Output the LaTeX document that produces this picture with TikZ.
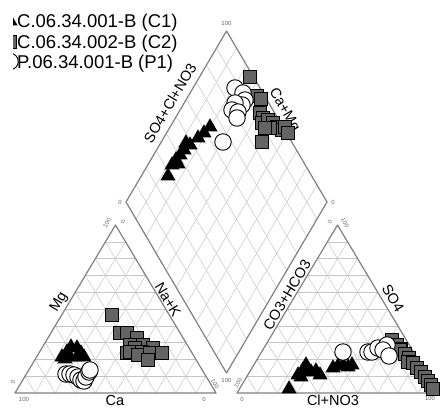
\documentclass[tikz,border=0pt]{standalone}
\usepackage{fontspec}
\setmainfont{Liberation Sans}
\usetikzlibrary{shapes.geometric,calc}
\definecolor{sqgray}{RGB}{100,100,100}

\begin{document}
\begin{tikzpicture}[x=1pt, y=-1pt,
    frame/.style={draw=gray, line width=1.2pt, line join=round},
    grid/.style={draw=gray!45, line width=0.5pt},
    tri/.style={regular polygon, regular polygon sides=3, fill=black, inner sep=0pt, minimum size=17.5pt},
    sq/.style={rectangle, draw=black, line width=0.8pt, fill=sqgray, inner sep=0pt, minimum size=13pt},
    circ/.style={circle, draw=black, line width=0.9pt, fill=white, inner sep=0pt, minimum size=16.5pt},
    axis/.style={font=\fontsize{14.5}{15}\selectfont, inner sep=0pt},
    tick/.style={font=\fontsize{6}{7}\selectfont, text=gray!80!black, inner sep=0pt},
    legend/.style={font=\fontsize{18.5}{20}\selectfont, anchor=base west, inner sep=0pt}
  ]

    \useasboundingbox (0,0) rectangle (441,407);

    % corners
    \coordinate (L1) at (15,393);
    \coordinate (L2) at (216,393);
    \coordinate (L3) at (115.5,225);
    \coordinate (R1) at (237,393);
    \coordinate (R2) at (438,393);
    \coordinate (R3) at (337.5,225);
    \coordinate (D1) at (226.5,373);
    \coordinate (D2) at (126,202);
    \coordinate (D3) at (226.5,31);
    \coordinate (D4) at (327,202);

    % grids
    \foreach \a/\b/\c in {L1/L2/L3, R1/R2/R3} {
      \foreach \i in {1,...,9} {
        \draw[grid] ($(\a)!\i/10!(\c)$) -- ($(\b)!\i/10!(\c)$);
        \draw[grid] ($(\a)!\i/10!(\b)$) -- ($(\c)!\i/10!(\b)$);
        \draw[grid] ($(\b)!\i/10!(\a)$) -- ($(\c)!\i/10!(\a)$);
      }
    }
    \foreach \i in {1,...,9} {
      \draw[grid] ($(D1)!\i/10!(D4)$) -- ($(D2)!\i/10!(D3)$);
      \draw[grid] ($(D1)!\i/10!(D2)$) -- ($(D4)!\i/10!(D3)$);
    }

    \draw[frame] (L1) -- (L2) -- (L3) -- cycle;
    \draw[frame] (R1) -- (R2) -- (R3) -- cycle;
    \draw[frame] (D1) -- (D4) -- (D3) -- (D2) -- cycle;

    % ticks
    \node[tick] (lc100) at (24,399) {100};
    \node[tick] (lc0) at (204,399) {0};
    \node[tick, rotate=60] (lm0) at (13,382) {0};
    \node[tick, rotate=60] (lm100) at (107,223) {100};
    \node[tick, rotate=-60] (ln0) at (123,222) {0};
    \node[tick, rotate=-60] (ln100) at (215,384) {100};
    \node[tick] (rc0) at (242,399) {0};
    \node[tick] (rc100) at (430,398) {100};
    \node[tick, rotate=60] (rh100) at (238,383) {100};
    \node[tick, rotate=60] (rh0) at (330,222) {0};
    \node[tick, rotate=-60] (rs100) at (345,223) {100};
    \node[tick] (dt100) at (226.5,23) {100};
    \node[tick] (dl0) at (120,202) {0};
    \node[tick] (dr0) at (333,202) {0};
    \node[tick] (db100) at (226.5,380) {100};

    % axis names
    \node[axis, rotate=59] (mg) at (59,302) {Mg};
    \node[axis, rotate=-59] (nak) at (168,300) {Na+K};
    \node[axis, anchor=base] (ca) at (115,405) {Ca};
    \node[axis, rotate=59] (hco) at (287,295) {CO3+HCO3};
    \node[axis, rotate=-59] (so) at (393,298) {SO4};
    \node[axis, anchor=base] (clno) at (333,405) {Cl+NO3};
    \node[axis, rotate=59.6] (socl) at (170,103) {SO4+Cl+NO3};
    \node[axis, rotate=-59.6] (camg) at (284,110) {Ca+Mg};

    % C1
    \foreach \x/\y [count=\i] in {62/357, 67/352, 71/347, 77/348, 81/353, 84/357, 70/357, 77/357, 65/359,
        289/389, 298/375, 303/370, 306/365, 311/372, 316/371, 301/377, 320/375,
        333/368, 338/366, 343/365, 348/367, 352/365,
        210/127, 204/133, 198/138, 190/145, 186/143, 184/150, 180/155, 176/160, 172/165, 178/164, 168/176}
      \node[tri] (c1\i) at (\x,\y) {};

    % C2
    \foreach \x/\y [count=\i] in {112/315, 120/333, 127/333, 137/338, 130/345, 143/345, 135/348, 153/348,
        127/353, 130/352, 142/352, 138/355, 150/353, 162/353, 148/360,
        392/340, 397/345, 401/349, 400/350, 405/354, 409/358, 408/362, 413/363, 417/368, 421/372,
        425/377, 428/381, 431/385, 433/389,
        250/77, 257/96, 261/99, 260/113, 263/118, 262/123, 268/120, 273/123, 277/127, 282/130,
        285/127, 288/133, 270/128, 265/128, 262/142}
      \node[sq] (c2\i) at (\x,\y) {};

    % P1
    \foreach \x/\y [count=\i] in {66/374, 70/374, 74/375, 78/377, 81/380, 84/381, 86/377, 89/372, 90/370,
        343/352, 368/352, 372/352, 378/348, 387/345, 383/350, 389/356,
        223/142, 235/88, 243/93, 245/100, 242/105, 235/103, 232/110, 238/112, 237/118}
      \node[circ] (p1\i) at (\x,\y) {};

    % legend
    \begin{scope}
      \clip (13,0) rectangle (40,75);
      \node[tri] (k1) at (10,21) {};
      \node[sq] (k2) at (10,41.5) {};
      \node[circ] (k3) at (10,61.5) {};
    \end{scope}
    \node[legend] (t1) at (17,27.3) {C.06.34.001-B (C1)};
    \node[legend] (t2) at (17,48.3) {C.06.34.002-B (C2)};
    \node[legend] (t3) at (17,68.3) {P.06.34.001-B (P1)};

  \end{tikzpicture}
\end{document}
